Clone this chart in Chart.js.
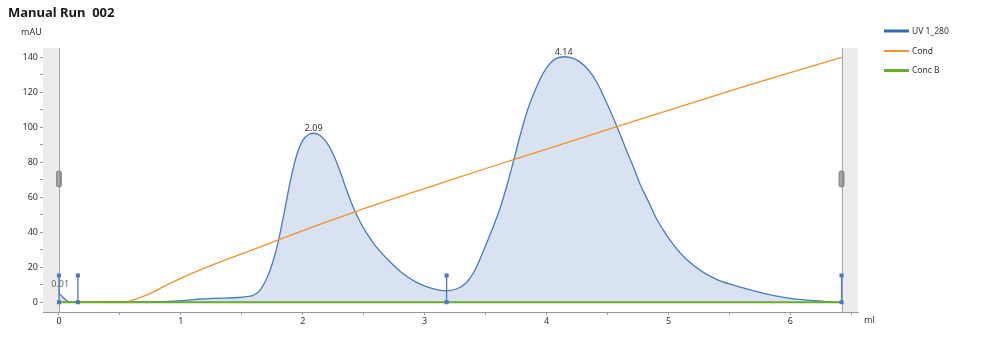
<!DOCTYPE html>
<html><head><meta charset="utf-8">
<script src="https://cdn.jsdelivr.net/npm/chart.js@4.4.0/dist/chart.umd.min.js"></script>
<style>html,body{margin:0;padding:0;background:#fff;}</style>
</head><body>
<canvas id="c" width="1000" height="337"></canvas>
<script>
// ---- data ----
const uvX = [0, 0.09, 0.3, 0.6, 0.9, 1.0, 1.1, 1.16, 1.3, 1.43, 1.5, 1.54, 1.60, 1.65, 1.70, 1.75, 1.80, 1.85, 1.90, 1.95, 2.00, 2.05, 2.09, 2.14, 2.20, 2.26, 2.31, 2.36, 2.41, 2.47, 2.52, 2.60, 2.69, 2.77, 2.85, 2.93, 3.02, 3.10, 3.18, 3.26, 3.34, 3.41, 3.48, 3.55, 3.62, 3.68, 3.73, 3.79, 3.84, 3.90, 3.95, 4.00, 4.06, 4.14, 4.21, 4.27, 4.34, 4.41, 4.48, 4.55, 4.60, 4.66, 4.72, 4.77, 4.84, 4.90, 4.97, 5.04, 5.12, 5.20, 5.30, 5.40, 5.50, 5.59, 5.70, 5.80, 5.90, 6.0, 6.1, 6.2, 6.3, 6.42];
const uvY = [5, 0.2, 0.1, 0.2, 0.5, 0.9, 1.5, 1.9, 2.3, 2.6, 2.9, 3.2, 4.2, 7, 13, 22, 35, 52, 70, 84, 92.5, 96, 96.6, 95.5, 91, 83, 74, 64, 55, 46, 40, 32, 25, 19.5, 15, 11.5, 8.8, 7.3, 6.6, 7.6, 11, 18, 29, 41, 54, 68, 81, 97, 109, 120, 128, 134, 138.5, 140.3, 139.5, 137.5, 133, 126, 116, 105, 96.5, 86, 76, 67, 57, 48, 40, 33, 26.5, 21.5, 16.5, 13, 10.5, 8.7, 6.6, 4.8, 3.4, 2.3, 1.5, 0.9, 0.4, 0];
const condX = [0, 0.3, 0.55, 0.6, 0.67, 0.75, 0.87, 0.99, 1.1, 1.24, 1.57, 1.81, 2.14, 2.44, 3.13, 3.29, 3.73, 4.57, 5.59, 6.42];
const condY = [0, 0.2, 0.3, 1.2, 2.8, 5.1, 9.4, 13.4, 16.8, 20.8, 29.5, 36, 44.5, 52, 68, 71.7, 81.5, 100.3, 122.6, 140];
const concBX = [0, 6.42];
const concBY = [0, 0];
const markerX = [0, 0.155, 3.18, 6.42];
const markerTop = 15.3;
const peakX = [0.01, 2.09, 4.14];
const peakY = [5, 96.6, 140.3];
const peakLabels = ['0.01', '2.09', '4.14'];
const xTicks = [0, 0.5, 1, 1.5, 2, 2.5, 3, 3.5, 4, 4.5, 5, 5.5, 6, 6.5];
const yTicks = [0, 10, 20, 30, 40, 50, 60, 70, 80, 90, 100, 110, 120, 130, 140];
const seriesNames = ['UV 1_280', 'Cond', 'Conc B'];
const runStart = 0, runEnd = 6.42;
const titleText = 'Manual Run  002';
const yUnit = 'mAU', xUnit = 'ml';

// ---- styles ----
const FONT = "'Noto Sans', 'Open Sans', sans-serif";
const blue = '#4a7bbf', orange = '#f0922b', green = '#6aab2a';
const legendColors = ['#2f6bb3', '#f0922b', '#6aab2a'];

const pts = (xs, ys) => xs.map((x, i) => ({x: x, y: ys[i]}));

const datasets = [];
markerX.forEach(mx => datasets.push({
  label: 'marker', data: [{x: mx, y: 0}, {x: mx, y: markerTop}],
  borderColor: blue, borderWidth: 1.3, pointRadius: 2, pointStyle: 'rect',
  pointBackgroundColor: blue, pointBorderColor: blue, order: 0, fill: false
}));
datasets.push({label: seriesNames[2], data: pts(concBX, concBY), borderColor: green, borderWidth: 2, pointRadius: 0, order: 1, fill: false});
datasets.push({label: seriesNames[1], data: pts(condX, condY), borderColor: orange, borderWidth: 1.3, pointRadius: 0, cubicInterpolationMode: 'monotone', order: 2, fill: false});
datasets.push({label: seriesNames[0], data: pts(uvX, uvY), borderColor: blue, borderWidth: 1.3, pointRadius: 0, cubicInterpolationMode: 'monotone', order: 3, fill: 'origin', backgroundColor: '#d8e2f0'});

const deco = {
  id: 'deco',
  beforeDatasetsDraw(chart) {
    const {ctx, chartArea: a, scales: {x}} = chart;
    const x0 = x.getPixelForValue(runStart), x1 = x.getPixelForValue(runEnd);
    ctx.save();
    ctx.fillStyle = '#ececec';
    ctx.fillRect(a.left, a.top, x0 - a.left, a.bottom - a.top);
    ctx.fillRect(x1, a.top, a.right - x1, a.bottom - a.top);
    ctx.strokeStyle = '#a8a8a8'; ctx.lineWidth = 1;
    ctx.beginPath();
    ctx.moveTo(Math.round(x0) + 0.5, a.top); ctx.lineTo(Math.round(x0) + 0.5, a.bottom);
    ctx.moveTo(Math.round(x1) + 0.5, a.top); ctx.lineTo(Math.round(x1) + 0.5, a.bottom);
    ctx.stroke();
    ctx.restore();
  },
  afterDatasetsDraw(chart) {
    const {ctx, chartArea: a, scales: {x, y}} = chart;
    ctx.save();
    const hy = (a.top + a.bottom) / 2 - 1;
    [runStart, runEnd].forEach(v => {
      const px = x.getPixelForValue(v);
      ctx.fillStyle = '#8c8c8c';
      ctx.beginPath();
      ctx.roundRect(px - 3, hy - 8.5, 6, 17, 3);
      ctx.fill();
      ctx.fillStyle = '#a9a9a9';
      ctx.beginPath();
      ctx.roundRect(px - 1.5, hy - 7, 2, 14, 1);
      ctx.fill();
    });
    ctx.font = '9px ' + FONT;
    ctx.textAlign = 'center';
    ctx.textBaseline = 'alphabetic';
    peakX.forEach((px, i) => {
      ctx.fillStyle = i === 0 ? '#666' : '#333';
      ctx.fillText(peakLabels[i], x.getPixelForValue(px), y.getPixelForValue(peakY[i]) - (i === 0 ? 7 : 2));
    });
    ctx.restore();
  },
  afterDraw(chart) {
    const {ctx} = chart;
    ctx.save();
    ctx.fillStyle = '#1a1a1a';
    ctx.font = 'bold 13px ' + FONT;
    ctx.textAlign = 'left'; ctx.textBaseline = 'alphabetic';
    ctx.fillText(titleText, 8, 17);
    ctx.fillStyle = '#333';
    ctx.font = '9px ' + FONT;
    ctx.fillText(yUnit, 21, 35);
    ctx.fillText(xUnit, 864, 323);
    const ly = [31, 51, 70.5];
    const lw = [3, 2, 3];
    ctx.font = '8.5px ' + FONT;
    ctx.textBaseline = 'middle';
    seriesNames.forEach((n, i) => {
      ctx.strokeStyle = legendColors[i];
      ctx.lineWidth = lw[i];
      ctx.beginPath(); ctx.moveTo(884, ly[i]); ctx.lineTo(909, ly[i]); ctx.stroke();
      ctx.fillStyle = '#333';
      ctx.fillText(n, 912, ly[i] + 0.5);
    });
    ctx.restore();
  }
};

new Chart(document.getElementById('c'), {
  type: 'line',
  data: {datasets},
  options: {
    responsive: false, animation: false, devicePixelRatio: 1,
    layout: {padding: {top: 48, right: 142, bottom: 0, left: 0}},
    plugins: {legend: {display: false}, tooltip: {enabled: false}, title: {display: false}},
    elements: {line: {tension: 0}},
    scales: {
      x: {
        type: 'linear', min: -0.131, max: 6.555,
        afterBuildTicks: s => { s.ticks = xTicks.map(v => ({value: v})); },
        afterFit: s => { s.height = 25; },
        ticks: {autoSkip: false, maxRotation: 0, padding: 1, color: '#333', font: {size: 9, family: FONT},
          callback: v => Number.isInteger(v) ? String(v) : ''},
        grid: {display: true, drawOnChartArea: false, drawTicks: true, tickLength: 3, color: '#999'},
        border: {display: true, color: '#999'}
      },
      y: {
        type: 'linear', min: -5.54, max: 145.3,
        afterBuildTicks: s => { s.ticks = yTicks.map(v => ({value: v})); },
        afterFit: s => { s.width = 43; },
        ticks: {autoSkip: false, padding: 2, color: '#333', font: {size: 9, family: FONT},
          callback: v => v % 20 === 0 ? String(v) : ''},
        grid: {display: true, drawOnChartArea: false, drawTicks: true, tickLength: 3, color: '#999'},
        border: {display: true, color: '#999'}
      }
    }
  },
  plugins: [deco]
});
</script>
</body></html>
